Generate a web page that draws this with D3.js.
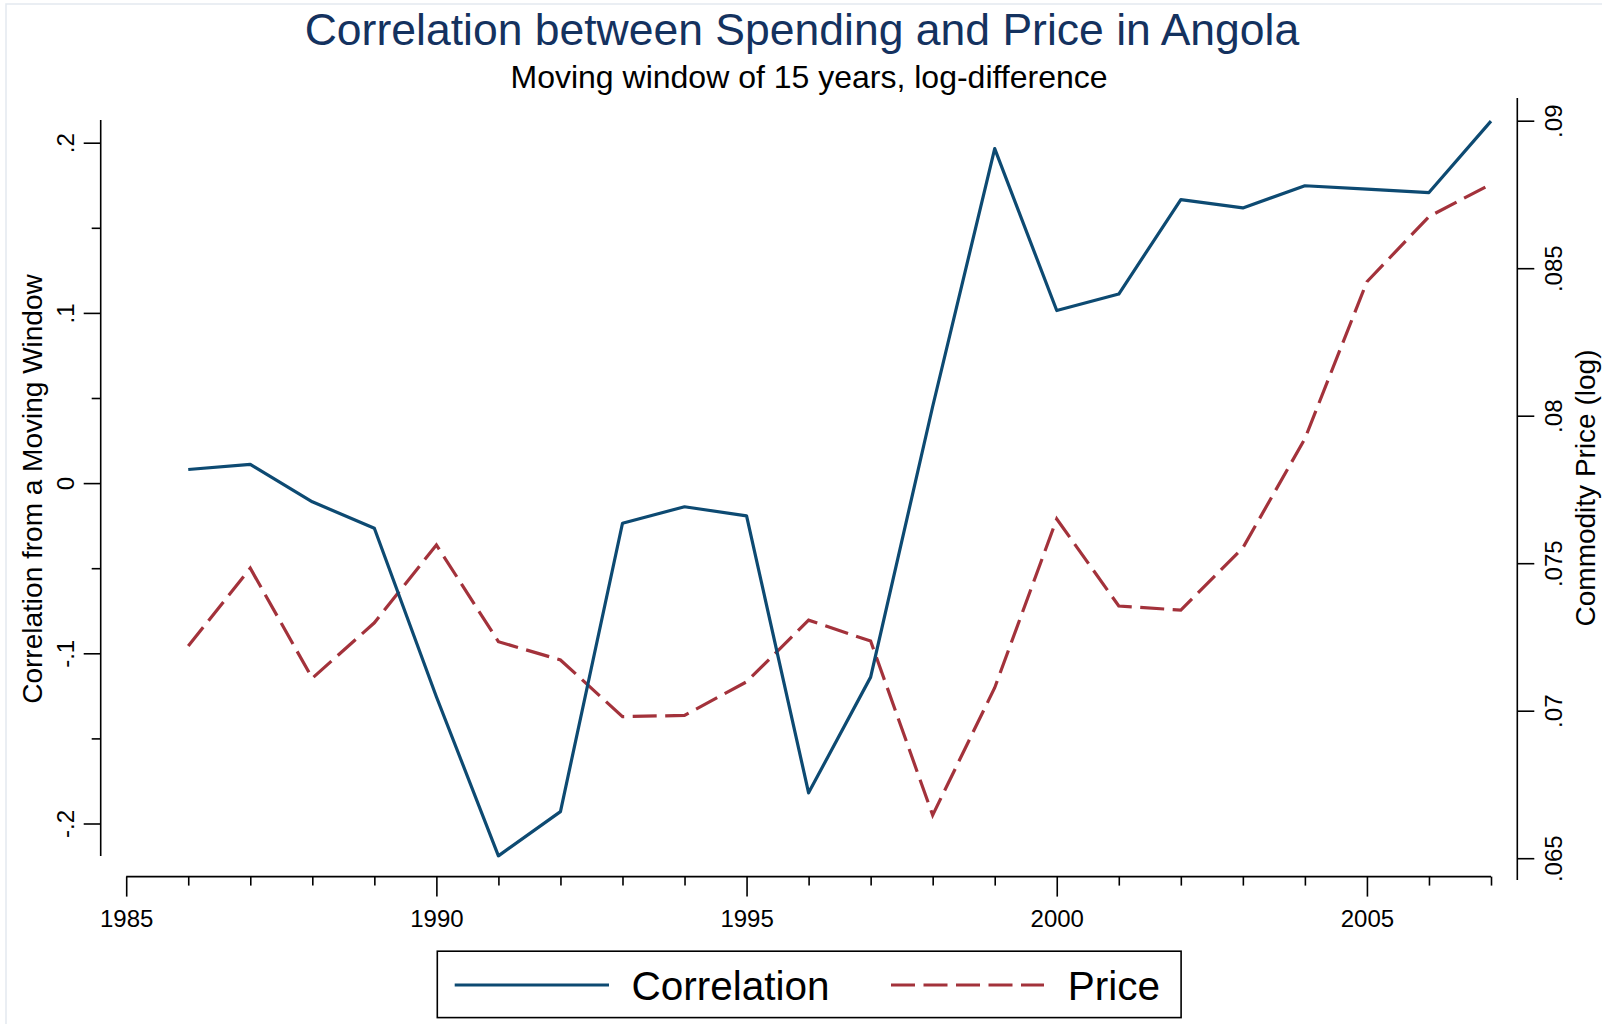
<!DOCTYPE html>
<html>
<head>
  <meta charset="UTF-8">
  <title>Correlation between Spending and Price in Angola</title>
  <script src="https://cdnjs.cloudflare.com/ajax/libs/d3/7.8.5/d3.min.js"></script>
  <style type="text/css">
    body { margin: 0; background: #ffffff; }
    svg text { font-family: "Liberation Sans", Arial, Helvetica, sans-serif; fill: #000; }
  </style>
</head>
<body>
<script type="text/javascript">

  // values
  var years = [1986, 1987, 1988, 1989, 1990, 1991, 1992, 1993, 1994, 1995, 1996,
               1997, 1998, 1999, 2000, 2001, 2002, 2003, 2004, 2005, 2006, 2007];
  var correlation = [0.008, 0.011, -0.011, -0.0265, -0.1255, -0.219, -0.193, -0.0236, -0.0139, -0.0193, -0.182,
                     -0.114, 0.045, 0.1965, 0.1014, 0.1111, 0.1666, 0.1617, 0.1747, 0.1727, 0.1707, 0.2127];
  var price = [0.07219, 0.07483, 0.07110, 0.07298, 0.07562, 0.07234, 0.07172, 0.06980, 0.06984, 0.07098, 0.07307,
               0.07236, 0.06646, 0.07078, 0.07650, 0.07355, 0.07341, 0.07552, 0.07922, 0.08454, 0.08675, 0.08785];

  // tick values and labels
  var xMajor = [1985, 1990, 1995, 2000, 2005];
  var xMajorLabels = ["1985", "1990", "1995", "2000", "2005"];
  var xMinor = [1986, 1987, 1988, 1989, 1991, 1992, 1993, 1994, 1996, 1997, 1998, 1999,
                2001, 2002, 2003, 2004, 2006, 2007];
  var leftMajor = [-0.2, -0.1, 0, 0.1, 0.2];
  var leftMajorLabels = ["-.2", "-.1", "0", ".1", ".2"];
  var leftMinor = [-0.15, -0.05, 0.05, 0.15];
  var rightMajor = [0.065, 0.07, 0.075, 0.08, 0.085, 0.09];
  var rightMajorLabels = [".065", ".07", ".075", ".08", ".085", ".09"];

  var seriesNames = ["Correlation", "Price"];
  var blue = "#0d4a72", red = "#a3323b";

  var W = 1602, H = 1024;

  var svg = d3.select("body").append("svg")
      .attr("width", W)
      .attr("height", H);

  // faint outer frame of the graph region
  svg.append("path")
      .attr("d", "M6,1030 V4 H1610")
      .attr("fill", "none")
      .attr("stroke", "#e3e9ef")
      .attr("stroke-width", 1.5);

  //scales
  var x = d3.scaleLinear().domain([1985, 2007]).range([126.2, 1491]);
  var yL = d3.scaleLinear().domain([-0.2, 0.2]).range([823.5, 142.7]);
  var yR = d3.scaleLinear().domain([0.065, 0.09]).range([858.2, 120.7]);

  var leftX = 100.7, rightX = 1517.3, bottomY = 876.6;

  //X AXIS
  var gx = svg.append("g").attr("transform", "translate(0," + bottomY + ")");
  gx.append("line")
      .attr("x1", x(1985)).attr("x2", x(2007))
      .attr("stroke", "#000").attr("stroke-width", 1.6);
  gx.append("g")
      .call(d3.axisBottom(x).tickValues(xMinor).tickSize(9).tickFormat(""))
      .call(function (g) { g.select(".domain").remove(); });
  gx.append("g")
      .call(d3.axisBottom(x).tickValues(xMajor).tickSize(20)
        .tickFormat(function (d, i) { return xMajorLabels[i]; }))
      .call(function (g) { g.select(".domain").remove(); })
      .selectAll("text")
        .attr("y", 50).attr("dy", 0)
        .style("font-size", "24px");

  //LEFT AXIS
  var gl = svg.append("g").attr("transform", "translate(" + leftX + ",0)");
  gl.append("line")
      .attr("y1", 120).attr("y2", 856)
      .attr("stroke", "#000").attr("stroke-width", 1.6);
  gl.append("g")
      .call(d3.axisLeft(yL).tickValues(leftMinor).tickSize(9).tickFormat(""))
      .call(function (g) { g.select(".domain").remove(); });
  gl.append("g")
      .call(d3.axisLeft(yL).tickValues(leftMajor).tickSize(17)
        .tickFormat(function (d, i) { return leftMajorLabels[i]; }))
      .call(function (g) { g.select(".domain").remove(); })
      .selectAll("text")
        .attr("transform", "rotate(-90)")
        .attr("x", 0).attr("y", -27).attr("dy", 0)
        .attr("text-anchor", "middle")
        .style("font-size", "24px");

  //RIGHT AXIS
  var gr = svg.append("g").attr("transform", "translate(" + rightX + ",0)");
  gr.append("line")
      .attr("y1", 98).attr("y2", 880)
      .attr("stroke", "#000").attr("stroke-width", 1.6);
  gr.append("g")
      .call(d3.axisRight(yR).tickValues(rightMajor).tickSize(17)
        .tickFormat(function (d, i) { return rightMajorLabels[i]; }))
      .call(function (g) { g.select(".domain").remove(); })
      .selectAll("text")
        .attr("transform", "rotate(-90)")
        .attr("x", 0).attr("y", 44.5).attr("dy", 0)
        .attr("text-anchor", "middle")
        .style("font-size", "24px");

  svg.selectAll(".tick line").attr("stroke", "#000").attr("stroke-width", 1.6);

  //AXIS TITLES
  svg.append("text")
      .attr("transform", "translate(42,489) rotate(-90)")
      .attr("text-anchor", "middle")
      .style("font-size", "28px")
      .text("Correlation from a Moving Window");

  svg.append("text")
      .attr("transform", "translate(1595,488) rotate(-90)")
      .attr("text-anchor", "middle")
      .style("font-size", "28px")
      .text("Commodity Price (log)");

  //TITLES
  svg.append("text")
      .attr("x", 802).attr("y", 45)
      .attr("text-anchor", "middle")
      .style("font-size", "44.5px")
      .style("fill", "#14325f")
      .text("Correlation between Spending and Price in Angola");

  svg.append("text")
      .attr("x", 809).attr("y", 88)
      .attr("text-anchor", "middle")
      .style("font-size", "32px")
      .text("Moving window of 15 years, log-difference");

  //LINES
  var corrLine = d3.line()
      .x(function (d, i) { return x(years[i]); })
      .y(function (d) { return yL(d); });

  var priceLine = d3.line()
      .x(function (d, i) { return x(years[i]); })
      .y(function (d) { return yR(d); });

  svg.append("path")
      .attr("d", priceLine(price))
      .attr("fill", "none")
      .attr("stroke", red)
      .attr("stroke-width", 3.2)
      .attr("stroke-dasharray", "24,8.5");

  svg.append("path")
      .attr("d", corrLine(correlation))
      .attr("fill", "none")
      .attr("stroke", blue)
      .attr("stroke-width", 3.2)
      .attr("stroke-linejoin", "round");

  //LEGEND
  var lg = svg.append("g");
  lg.append("rect")
      .attr("x", 437.3).attr("y", 951.2)
      .attr("width", 743.8).attr("height", 66.4)
      .attr("fill", "#fff")
      .attr("stroke", "#000")
      .attr("stroke-width", 1.6);

  var legendItems = [
    {name: seriesNames[0], color: blue, dash: null, x1: 454.7, x2: 609, tx: 631.4},
    {name: seriesNames[1], color: red, dash: "24,8.5", x1: 891, x2: 1044, tx: 1067.7}
  ];
  legendItems.forEach(function (it) {
    lg.append("line")
        .attr("x1", it.x1).attr("x2", it.x2)
        .attr("y1", 985).attr("y2", 985)
        .attr("stroke", it.color)
        .attr("stroke-width", 3.2)
        .attr("stroke-dasharray", it.dash);
    lg.append("text")
        .attr("x", it.tx).attr("y", 1000)
        .style("font-size", "40.5px")
        .text(it.name);
  });

</script>
</body>
</html>
